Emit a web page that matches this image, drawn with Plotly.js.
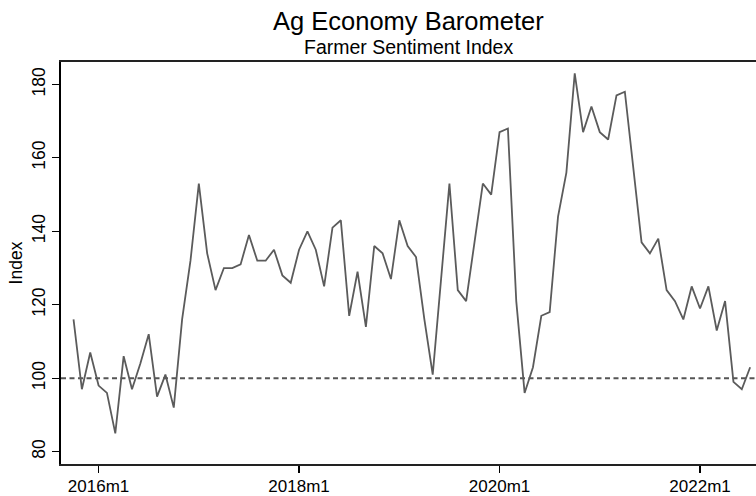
<!DOCTYPE html>
<html>
<head>
<meta charset="utf-8">
<script src="https://cdn.plot.ly/plotly-3.0.1.min.js"></script>
<style>html,body{margin:0;padding:0;background:#fff;}#chart{width:756px;height:496px;}</style>
</head>
<body>
<div id="chart"></div>
<script>
var months = [
  "2015m10","2015m11","2015m12",
  "2016m1","2016m2","2016m3","2016m4","2016m5","2016m6","2016m7","2016m8","2016m9","2016m10","2016m11","2016m12",
  "2017m1","2017m2","2017m3","2017m4","2017m5","2017m6","2017m7","2017m8","2017m9","2017m10","2017m11","2017m12",
  "2018m1","2018m2","2018m3","2018m4","2018m5","2018m6","2018m7","2018m8","2018m9","2018m10","2018m11","2018m12",
  "2019m1","2019m2","2019m3","2019m4","2019m5","2019m6","2019m7","2019m8","2019m9","2019m10","2019m11","2019m12",
  "2020m1","2020m2","2020m3","2020m4","2020m5","2020m6","2020m7","2020m8","2020m9","2020m10","2020m11","2020m12",
  "2021m1","2021m2","2021m3","2021m4","2021m5","2021m6","2021m7","2021m8","2021m9","2021m10","2021m11","2021m12",
  "2022m1","2022m2","2022m3","2022m4","2022m5","2022m6","2022m7"
];
var sentiment = [
  116,97,107,
  98,96,85,106,97,104,112,95,101,92,116,132,
  153,134,124,130,130,131,139,132,132,135,128,126,
  135,140,135,125,141,143,117,129,114,136,134,127,
  143,136,133,116,101,127,153,124,121,137,153,150,
  167,168,121,96,103,117,118,144,156,183,167,174,
  167,165,177,178,158,137,134,138,124,121,116,125,
  119,125,113,121,99,97,103
];
var tickLabels = ["2016m1","2018m1","2020m1","2022m1"];
var yTicks = [80,100,120,140,160,180];
var baseline = 100;

// Stata-style monthly date: months since 1960m1
function tm(s){ var p = s.split("m"); return (parseInt(p[0],10)-1960)*12 + (parseInt(p[1],10)-1); }
var xs = months.map(tm);
var tickVals = tickLabels.map(tm);

var font = "Liberation Sans, Arial, Helvetica, sans-serif";

var trace = {
  x: xs, y: sentiment, type: "scatter", mode: "lines",
  line: {color: "#5b5b5b", width: 1.8},
  hoverinfo: "skip"
};

var layout = {
  width: 756, height: 496,
  margin: {l: 60.5, r: 0, t: 62, b: 32, pad: 0},
  paper_bgcolor: "#fff", plot_bgcolor: "#fff",
  showlegend: false,
  font: {family: font, color: "#000", size: 17.5},
  xaxis: {
    range: [tm("2015m10") - 1.5, tm("2022m7") + 0.7],
    tickmode: "array", tickvals: tickVals, ticktext: tickLabels,
    ticks: "outside", ticklen: 7, tickwidth: 1.2, tickcolor: "#000",
    ticklabelstandoff: -1,
    showline: true, linecolor: "#222", linewidth: 1.6, mirror: true,
    showgrid: false, zeroline: false,
    tickfont: {family: font, size: 17, color: "#000"}
  },
  yaxis: {
    range: [76.65, 186.1],
    tickmode: "array", tickvals: yTicks,
    ticks: "outside", ticklen: 7, tickwidth: 1.2, tickcolor: "#000",
    tickangle: -90,
    showline: true, linecolor: "#000", linewidth: 1.6,
    showgrid: false, zeroline: false,
    tickfont: {family: font, size: 17.5, color: "#000"},
    title: {text: "Index", font: {family: font, size: 17.5, color: "#000"}, standoff: 2}
  },
  shapes: [{
    type: "line", xref: "paper", x0: 0, x1: 1, yref: "y", y0: baseline, y1: baseline,
    line: {color: "#555", width: 1.8, dash: "5px,3.5px"}, layer: "below"
  }],
  annotations: [
    {text: "Ag Economy Barometer", xref: "paper", yref: "paper", x: 0.5, y: 1.102,
     xanchor: "center", yanchor: "middle", showarrow: false,
     font: {family: font, size: 25.5, color: "#000"}},
    {text: "Farmer Sentiment Index", xref: "paper", yref: "paper", x: 0.5, y: 1.038,
     xanchor: "center", yanchor: "middle", showarrow: false,
     font: {family: font, size: 19.5, color: "#000"}}
  ]
};

Plotly.newPlot("chart", [trace], layout, {staticPlot: true, displayModeBar: false});
</script>
</body>
</html>
